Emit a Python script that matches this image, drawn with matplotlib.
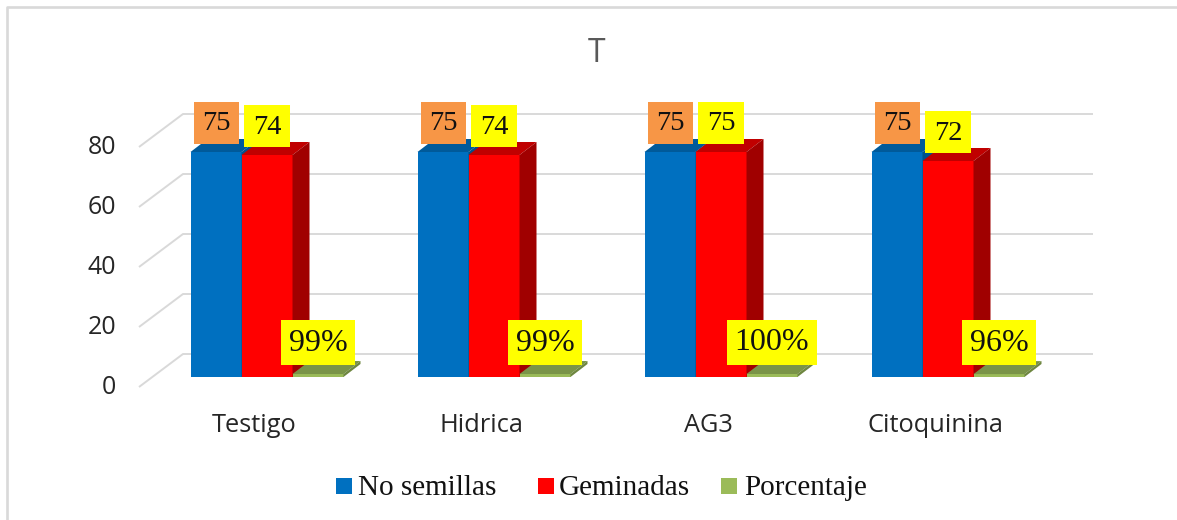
import matplotlib
matplotlib.use("Agg")
import matplotlib.pyplot as plt
from matplotlib.patches import Polygon, Rectangle

categories = ["Testigo", "Hidrica", "AG3", "Citoquinina"]
no_semillas = [75, 75, 75, 75]
geminadas = [74, 74, 75, 72]
porcentaje = [0.99, 0.99, 1.00, 0.96]
y_ticks = [0, 20, 40, 60, 80]
series_names = ["No semillas", "Geminadas", "Porcentaje"]

W, H = 1177, 520
PX_X = 227.0  # pixels per category
PX_Y = 3.0    # pixels per unit
X0, Y0 = 267, 377  # pixel of first group centre / value 0


def dx(px):
    return px / PX_X


def dy(px):
    return px / PX_Y


def px_x(px):
    return dx(px - X0)


def px_y(px):
    return dy(Y0 - px)


fig = plt.figure(figsize=(W / 100, H / 100), dpi=100)
ax = fig.add_axes([0, 0, 1, 1])
ax.set_xlim(-X0 / PX_X, (W - X0) / PX_X)
ax.set_ylim((Y0 - H) / PX_Y, Y0 / PX_Y)
ax.axis("off")

# chart frame, only left and top show in the crop
ax.plot([px_x(7.3), px_x(7.3), px_x(W)], [px_y(H), px_y(7.3), px_y(7.3)], color="#D9D9D9", lw=1.9, zorder=0)

# floor + wall gridlines
for v in y_ticks:
    xs = [px_x(139), px_x(183), px_x(1093)]
    ys = [v + dy(-10), v + dy(23), v + dy(23)]
    ax.plot(xs, ys, color="#D9D9D9", lw=1.4, zorder=1, solid_capstyle="butt")
    ax.text(px_x(116), v + dy(-10), str(v), ha="right", va="center", fontsize=18,
            family="Open Sans", color="#262626", zorder=6)

bar_w = dx(51)
depth_x, depth_y = dx(17), dy(13)


def bar3d(x, val, front, top, side, z):
    ax.add_patch(Rectangle((x, 0), bar_w, val, fc=front, ec="none", zorder=z))
    ax.add_patch(Polygon([(x, val), (x + bar_w, val), (x + bar_w + depth_x, val + depth_y), (x + depth_x, val + depth_y)],
                         fc=top, ec="none", zorder=z))
    ax.add_patch(Polygon([(x + bar_w, 0), (x + bar_w + depth_x, depth_y), (x + bar_w + depth_x, val + depth_y), (x + bar_w, val)],
                         fc=side, ec="none", zorder=z))


def box_label(cx, cy, w, h, txt, color, fs):
    ax.add_patch(Rectangle((cx - dx(w) / 2, cy - dy(h) / 2), dx(w), dy(h), fc=color, ec="none", zorder=8))
    ax.text(cx, cy - dy(1), txt, ha="center", va="center", fontsize=fs, family="Liberation Serif", color="#111111", zorder=9)


for i, cat in enumerate(categories):
    x_blue = i - 1.5 * bar_w
    x_red = i - 0.5 * bar_w
    x_green = i + 0.5 * bar_w
    bar3d(x_blue, no_semillas[i], "#0070C0", "#005A9A", "#00528C", 3)
    bar3d(x_red, geminadas[i], "#FF0000", "#C00000", "#A00000", 4)
    bar3d(x_green, porcentaje[i], "#9BBB59", "#7A9448", "#6E8640", 5)

    box_label(x_blue + bar_w / 2, no_semillas[i] + dy(29), 45, 42, str(no_semillas[i]), "#F79646", 20.5)
    box_label(x_red + bar_w / 2, geminadas[i] + dy(29), 46, 42, str(geminadas[i]), "#FFFF00", 20.5)
    pct = f"{porcentaje[i]:.0%}"
    box_label(x_green + bar_w / 2, porcentaje[i] + dy(32), 74 if len(pct) < 4 else 90, 45, pct, "#FFFF00", 23)

    ax.text(i + dx(-13), px_y(425), cat, ha="center", va="center", fontsize=18.3,
            family="Open Sans", color="#262626", zorder=6)

ax.text(px_x(597), px_y(53), "T", ha="center", va="center", fontsize=23,
        family="Open Sans", color="#595959")

# legend by hand, the gaps between entries are not even in the original
legend_colors = ["#0070C0", "#FF0000", "#9BBB59"]
legend_squares = [336, 538, 721]
legend_text_x = [358, 559, 744]
for name, col, sq, tx in zip(series_names, legend_colors, legend_squares, legend_text_x):
    ax.add_patch(Rectangle((px_x(sq), px_y(494)), dx(16), dy(16), fc=col, ec="none"))
    ax.text(px_x(tx), px_y(495), name, ha="left", va="baseline", fontsize=21,
            family="Liberation Serif", color="#111111")

fig.savefig("out.png", dpi=100)
